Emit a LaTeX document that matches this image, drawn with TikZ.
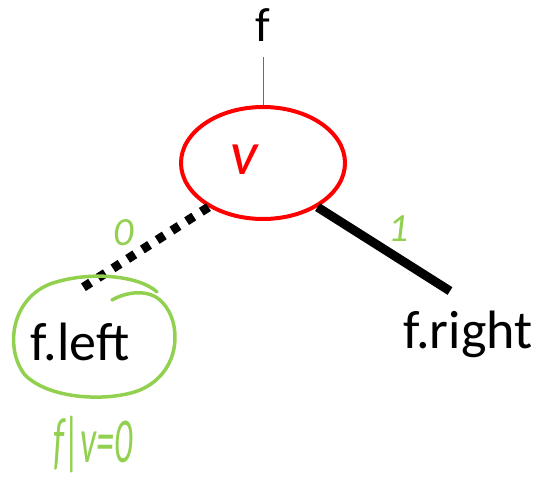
\documentclass[tikz,border=0pt]{standalone}
\usepackage{fontspec}
\setmainfont{Carlito}
\usetikzlibrary{shapes.geometric}
\definecolor{hgreen}{RGB}{146,208,80}
\definecolor{vred}{RGB}{255,0,0}
\definecolor{lpurple}{RGB}{160,70,160}
\tikzset{
  lbl/.style={font=\fontsize{54}{56}\selectfont, inner sep=0pt, anchor=base},
  hand/.style={text=hgreen, font=\fontsize{40}{42}\selectfont\itshape, inner sep=0pt},
  vnode/.style={ellipse, draw=vred, line width=4pt, minimum width=164pt, minimum height=112pt, inner sep=0pt},
  edge0/.style={line width=9pt, dash pattern=on 8.5pt off 9pt},
  edge1/.style={line width=9pt},
  greenpen/.style={hgreen, line width=3.5pt, line cap=round, line join=round},
}
\begin{document}
\begin{tikzpicture}[x=1pt,y=-1pt]
\useasboundingbox (0,0) rectangle (541,492);
\node[lbl, font=\fontsize{48}{50}\selectfont] (f) at (263,42) {f};
\node[vnode] (v) at (263,163) {};
\node[text=vred, font=\fontsize{62}{64}\selectfont\itshape, inner sep=0pt, anchor=base] (vl) at (244,175) {v};
\node[lbl] (fl) at (80,360) {f.left};
\node[lbl] (fr) at (468,348) {f.right};
\coordinate (ftop) at (263,57);
\coordinate (lend) at (76,292);
\coordinate (rend) at (450,291);
\draw[lpurple, line width=1pt] (ftop) -- (v.north);
\draw[edge0] (v.-141) -- (lend);
\draw[edge1] (v.-39) -- (rend);
\node[hand] (zero) at (124,233) {0};
\node[hand] (one) at (399,229) {1};
\draw[greenpen]
  (112,300) .. controls (128,291) and (150,289) .. (162,302)
  .. controls (182,322) and (182,372) .. (140,390)
  .. controls (110,402) and (50,400) .. (25,375)
  .. controls (5,350) and (10,300) .. (50,284)
  .. controls (90,270) and (140,276) .. (157,292);
\node[text=hgreen, inner sep=0pt] (cond) at (93,445)
  {\scalebox{0.9}[1.6]{\fontsize{40}{42}\selectfont\itshape f|v=0}};
\end{tikzpicture}
\end{document}
